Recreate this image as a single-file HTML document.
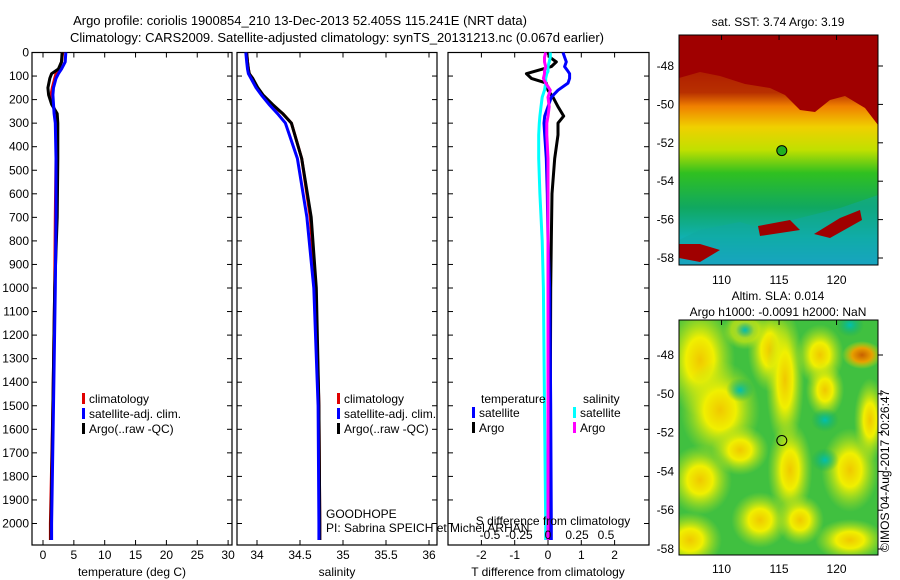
<!DOCTYPE html>
<html><head><meta charset="utf-8">
<style>
body{margin:0;background:#fff;}
svg{display:block;font-family:"Liberation Sans",sans-serif;}
text{fill:#000;}
</style></head>
<body>
<svg id="c" width="900" height="580" xmlns="http://www.w3.org/2000/svg">
<defs>
<linearGradient id="sstg" x1="0" y1="0" x2="0" y2="1">
<stop offset="0" stop-color="#a00000"/>
<stop offset="0.25" stop-color="#b83000"/>
<stop offset="0.31" stop-color="#f08000"/>
<stop offset="0.40" stop-color="#f0d000"/>
<stop offset="0.50" stop-color="#c0e000"/>
<stop offset="0.60" stop-color="#30c020"/>
<stop offset="0.75" stop-color="#10a860"/>
<stop offset="0.88" stop-color="#10b0b0"/>
<stop offset="1" stop-color="#20a0e0"/>
</linearGradient>
<radialGradient id="yb"><stop offset="0" stop-color="#f0c800"/><stop offset="0.4" stop-color="#f0f000"/><stop offset="1" stop-color="#b0e020" stop-opacity="0"/></radialGradient>
<radialGradient id="ob"><stop offset="0" stop-color="#c86000"/><stop offset="0.5" stop-color="#e8a000"/><stop offset="1" stop-color="#e0e000" stop-opacity="0"/></radialGradient>
<radialGradient id="tb"><stop offset="0" stop-color="#00c0b0"/><stop offset="1" stop-color="#10a860" stop-opacity="0"/></radialGradient>
<clipPath id="clipSla"><rect x="679" y="320" width="199" height="235"/></clipPath>
<clipPath id="clipSst"><rect x="679" y="35" width="199" height="230"/></clipPath>
</defs>
<text x="300" y="25" text-anchor="middle" font-size="13">Argo profile: coriolis 1900854_210 13-Dec-2013 52.405S 115.241E (NRT data)</text>
<text x="337" y="42" text-anchor="middle" font-size="13">Climatology: CARS2009. Satellite-adjusted climatology: synTS_20131213.nc (0.067d earlier)</text>
<g id="g"></g>
</svg>
<script>
// ---- data ----
const depthT=[0,40,70,90,110,150,180,220,260,300,450,700,1000,1500,2000,2070];
const tempClim=[3.2,3.0,2.6,2.1,1.9,1.5,1.3,1.6,2.0,2.1,2.1,2.0,1.9,1.6,1.2,1.2];
const tempSat=[3.7,3.6,3.0,2.5,2.1,1.7,1.6,1.7,1.8,2.0,2.1,2.1,2.0,1.7,1.4,1.4];
const tempArgo=[3.1,3.0,2.5,1.4,1.1,0.8,0.9,1.4,2.3,2.4,2.4,2.3,1.9,1.6,1.3,1.3];
const salClim=[33.88,33.89,33.9,33.91,33.95,34.0,34.06,34.17,34.3,34.4,34.52,34.62,34.68,34.72,34.73,34.73];
const salSat=[33.87,33.88,33.89,33.9,33.93,33.99,34.05,34.14,34.24,34.33,34.47,34.58,34.66,34.71,34.72,34.72];
const salArgo=[33.88,33.89,33.9,33.91,33.95,34.01,34.07,34.18,34.3,34.4,34.52,34.63,34.69,34.72,34.73,34.73];
const depthD=[0,20,40,60,80,90,110,130,160,190,230,270,300,350,450,600,800,1000,1500,2000,2070];
const dTsat=[0.45,0.5,0.55,0.5,0.6,0.65,0.65,0.6,0.3,0.1,0.0,-0.1,-0.12,-0.1,-0.05,-0.02,0.0,0.05,0.08,0.1,0.1];
const dTargo=[0.0,0.05,0.25,0.1,-0.4,-0.65,-0.5,-0.05,0.0,0.15,0.3,0.47,0.3,0.3,0.2,0.12,0.1,0.08,0.07,0.05,0.05];
const dSsat=[0.02,0.02,0.01,0.0,0.0,-0.01,-0.02,-0.02,-0.03,-0.05,-0.06,-0.07,-0.075,-0.08,-0.08,-0.07,-0.05,-0.04,-0.03,-0.02,-0.02];
const dSargo=[-0.02,-0.03,-0.03,-0.02,-0.03,-0.03,-0.04,-0.02,0.02,0.0,0.01,0.0,-0.01,-0.01,0.0,0.0,0.0,0.0,0.0,0.0,0.0];
const depthTicks=[0,100,200,300,400,500,600,700,800,900,1000,1100,1200,1300,1400,1500,1600,1700,1800,1900,2000];
const tempTicks=[0,5,10,15,20,25,30];
const salTicks=[34,34.5,35,35.5,36];
const dTTicks=[-2,-1,0,1,2];
const dSTicks=[-0.5,-0.25,0,0.25,0.5];
const dSTickLabels=["-0.5","-0.25","0","0.25","0.5"];
const latTicks=[-48,-50,-52,-54,-56,-58];
const lonTicks=[110,115,120];
const floatLon=115.24, floatLat=-52.405;

const NS="http://www.w3.org/2000/svg";
const G=document.getElementById('g');
function mk(tag,attrs,parent){const e=document.createElementNS(NS,tag);for(const k in attrs)e.setAttribute(k,attrs[k]);(parent||G).appendChild(e);return e;}
function txt(x,y,s,size,anchor,parent){const t=mk('text',{x:x,y:y,'font-size':size||12,'text-anchor':anchor||'start'},parent);t.textContent=s;return t;}

const ptop=52.5, bot=545;
const yD=d=>ptop+d*0.2355;
const xT=v=>43+6.17*v;
const xS=v=>257+86*(v-34);
const xDT=v=>548+33.3*v;
const xDS=v=>548+116*v;

function panel(x0,x1,name){
  const r=mk('rect',{x:x0,y:ptop,width:x1-x0,height:bot-ptop,fill:'none',stroke:'#000','stroke-width':1.2});
  
  
  depthTicks.forEach(d=>{
    mk('line',{x1:x0,x2:x0+5,y1:yD(d),y2:yD(d),stroke:'#000'});
    mk('line',{x1:x1,x2:x1-5,y1:yD(d),y2:yD(d),stroke:'#000'});
  });
}
function line(xs,ds,fx,color,name,w){
  const pts=xs.map((v,i)=>fx(v).toFixed(1)+','+yD(ds[i]).toFixed(1)).join(' ');
  const p=mk('polyline',{points:pts,fill:'none',stroke:color,'stroke-width':w||3,'stroke-linejoin':'round'});
  
  
}

// panel 1
panel(32,232,'temperature-panel');
depthTicks.forEach(d=>{const t=txt(29,yD(d)+4,String(d),12,'end');

});
tempTicks.forEach(v=>{mk('line',{x1:xT(v),x2:xT(v),y1:bot,y2:bot-5,stroke:'#000'});mk('line',{x1:xT(v),x2:xT(v),y1:ptop,y2:ptop+5,stroke:'#000'});
const t=txt(xT(v),559,String(v),12,'middle');

});
let t1=txt(132,576,'temperature (deg C)',12,'middle');


line(tempClim,depthT,xT,'#e00000','temp-climatology-line',3);
line(tempArgo,depthT,xT,'#000','temp-argo-line',3);
line(tempSat,depthT,xT,'#0000ff','temp-satellite-line',3);

// panel 2
panel(237,437,'salinity-panel');
salTicks.forEach(v=>{mk('line',{x1:xS(v),x2:xS(v),y1:bot,y2:bot-5,stroke:'#000'});mk('line',{x1:xS(v),x2:xS(v),y1:ptop,y2:ptop+5,stroke:'#000'});
const t=txt(xS(v),559,String(v),12,'middle');

});
let t2=txt(337,576,'salinity',12,'middle');


line(salClim,depthT,xS,'#e00000','sal-climatology-line',3);
line(salArgo,depthT,xS,'#000','sal-argo-line',3);
line(salSat,depthT,xS,'#0000ff','sal-satellite-line',3);

// legends
function legend(x,y,entries,name){
  entries.forEach((e,i)=>{
    mk('rect',{x:x,y:y+i*15-10,width:3,height:11,fill:e[1]});
    const t=txt(x+7,y+i*15,e[0],12);
    
    
  });
}
legend(82,403,[['climatology','#e00000'],['satellite-adj. clim.','#0000ff'],['Argo(..raw -QC)','#000']],'legend-temperature');
legend(337,403,[['climatology','#e00000'],['satellite-adj. clim.','#0000ff'],['Argo(..raw -QC)','#000']],'legend-salinity');
let gh=txt(326,518,'GOODHOPE',12);


let pi=txt(326,532,'PI: Sabrina SPEICH et Michel ARHAN',12);



// panel 3
panel(448,649,'difference-panel');
dTTicks.forEach(v=>{mk('line',{x1:xDT(v),x2:xDT(v),y1:bot,y2:bot-5,stroke:'#000'});mk('line',{x1:xDT(v),x2:xDT(v),y1:ptop,y2:ptop+5,stroke:'#000'});
const t=txt(xDT(v),559,String(v),12,'middle');

});
line(dTargo,depthD,xDT,'#000','tdiff-argo-line',3);
line(dTsat,depthD,xDT,'#0000ff','tdiff-satellite-line',3);
line(dSsat,depthD,xDS,'#00ffff','sdiff-satellite-line',3);
line(dSargo,depthD,xDS,'#ff00ff','sdiff-argo-line',3);
dSTicks.forEach((v,i)=>{const t=txt(xDS(v),539,dSTickLabels[i],12,'middle');

});
let sd=txt(553,525,'S difference from climatology',12,'middle');


let td=txt(548,576,'T difference from climatology',12,'middle');


let lt=txt(481,403,'temperature',12);
let ls=txt(583,403,'salinity',12);
legend(472,417,[['satellite','#0000ff'],['Argo','#000']],'legend-tdiff');
legend(573,417,[['satellite','#00ffff'],['Argo','#ff00ff']],'legend-sdiff');

// maps
const mx0=679,mx1=878;
const lonX=l=>679+(l-106.3)*11.5;
// top SST map
const sy0=35,sy1=265;
const latY1=l=>66+(-48-l)*19.2;
const sstG=mk('g',{'clip-path':'url(#clipSst)'});
mk('rect',{x:mx0,y:sy0,width:mx1-mx0,height:sy1-sy0,fill:'url(#sstg)'},sstG);
mk('path',{d:'M679,35 H878 V125 L865,108 L845,96 L830,100 L815,112 L800,110 L785,95 L770,88 L745,84 L720,76 L700,72 L679,78 Z',fill:'#a00000'},sstG);
mk('path',{d:'M679,240 L700,230 L740,222 L760,228 L800,218 L840,208 L878,195 V265 H679 Z',fill:'#10a8a0',opacity:0.5},sstG);
mk('path',{d:'M758,226 L790,220 L800,230 L760,236 Z M814,234 L840,218 L860,210 L862,220 L830,238 Z M679,244 L700,244 L720,250 L700,262 L679,258 Z',fill:'#a00000'},sstG);
mk('circle',{cx:lonX(floatLon),cy:latY1(floatLat),r:5,fill:'#20b020',stroke:'#000'});
mk('rect',{x:mx0,y:sy0,width:mx1-mx0,height:sy1-sy0,fill:'none',stroke:'#000'});
let st=txt(778,26,'sat. SST: 3.74  Argo: 3.19',12,'middle');
latTicks.forEach(l=>{mk('line',{x1:mx1,x2:mx1+5,y1:latY1(l),y2:latY1(l),stroke:'#000'});
const t=txt(674,latY1(l)+4,String(l),12,'end');});
lonTicks.forEach(l=>{mk('line',{x1:lonX(l),x2:lonX(l),y1:sy0,y2:sy0+5,stroke:'#000'});
const t=txt(lonX(l),284,String(l),12,'middle');});
// bottom SLA map
const by0=320,by1=555;
const latY2=l=>355+(-48-l)*19.4;
const slaG=mk('g',{'clip-path':'url(#clipSla)'});
mk('rect',{x:mx0,y:by0,width:mx1-mx0,height:by1-by0,fill:'#40c040'},slaG);
[[700,360,22,40],[720,410,25,35],[770,350,14,30],[785,380,12,50],[820,355,15,22],[825,390,12,20],[790,470,14,35],[850,470,18,30],[700,480,20,25],[760,520,18,20],[800,520,15,18],[690,540,20,20],[870,420,10,30],[740,450,18,18],[850,540,22,15],[745,330,14,14]].forEach(b=>mk('ellipse',{cx:b[0],cy:b[1],rx:b[2]*1.6,ry:b[3]*1.4,fill:'url(#yb)'},slaG));
mk('ellipse',{cx:862,cy:355,rx:20,ry:14,fill:'url(#ob)'},slaG);
[[745,330],[850,325],[825,420],[825,460],[740,390]].forEach(b=>mk('ellipse',{cx:b[0],cy:b[1],rx:14,ry:12,fill:'url(#tb)'},slaG));
mk('circle',{cx:lonX(floatLon),cy:latY2(floatLat),r:5,fill:'none',stroke:'#000'});
mk('rect',{x:mx0,y:by0,width:mx1-mx0,height:by1-by0,fill:'none',stroke:'#000'});
let a1=txt(778,300,'Altim. SLA: 0.014',12,'middle');
let a2=txt(778,316,'Argo h1000: -0.0091 h2000: NaN',12,'middle');
latTicks.forEach(l=>{mk('line',{x1:mx1,x2:mx1+5,y1:latY2(l),y2:latY2(l),stroke:'#000'});
const t=txt(674,latY2(l)+4,String(l),12,'end');});
lonTicks.forEach(l=>{mk('line',{x1:lonX(l),x2:lonX(l),y1:by0,y2:by0+5,stroke:'#000'});
const t=txt(lonX(l),573,String(l),12,'middle');});
const cr=txt(0,0,'©IMOS 04-Aug-2017 20:26:47',12,'start');
cr.setAttribute('transform','translate(889,552) rotate(-90)');


</script>
</body></html>
